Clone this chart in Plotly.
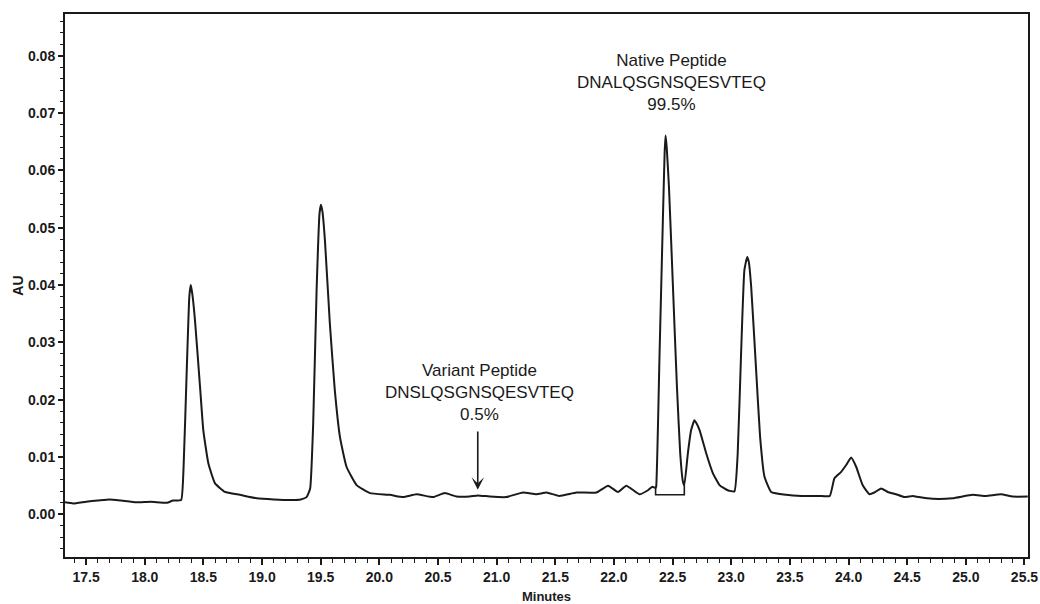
import plotly.graph_objects as go

# Retention time (minutes) and absorbance (AU)
minutes = [
    17.32, 17.39, 17.50, 17.60, 17.70, 17.80, 17.93, 18.05, 18.19, 18.24, 18.31,
    18.33, 18.358, 18.38, 18.392, 18.405, 18.428, 18.471, 18.499, 18.542, 18.599,
    18.684, 18.81, 18.954, 19.10, 19.25, 19.33, 19.38, 19.41, 19.436, 19.465,
    19.49, 19.502, 19.515, 19.536, 19.578, 19.62, 19.664, 19.72, 19.806, 19.92,
    20.09, 20.203, 20.317, 20.458, 20.558, 20.658, 20.77, 20.84, 20.94, 21.08,
    21.225, 21.34, 21.425, 21.535, 21.68, 21.85, 21.95, 22.034, 22.105, 22.217,
    22.29, 22.327, 22.355, 22.36, 22.389, 22.417, 22.432, 22.44, 22.45, 22.469,
    22.503, 22.537, 22.565, 22.588, 22.60, 22.63, 22.658, 22.686, 22.70, 22.73,
    22.787, 22.843, 22.90, 22.97, 23.027, 23.055, 23.084, 23.112, 23.136, 23.15,
    23.17, 23.212, 23.246, 23.283, 23.34, 23.468, 23.60, 23.75, 23.84, 23.88,
    23.937, 23.98, 24.022, 24.065, 24.12, 24.178, 24.22, 24.278, 24.334, 24.405,
    24.476, 24.547, 24.60, 24.717, 24.888, 25.058, 25.17, 25.30, 25.40, 25.528,
]
absorbance = [
    0.0021, 0.0019, 0.0022, 0.0024, 0.0026, 0.0024, 0.0021, 0.0022, 0.0020, 0.0024, 0.0025,
    0.0077, 0.0252, 0.0380, 0.0400, 0.0385, 0.0339, 0.0223, 0.0147, 0.0089, 0.0054,
    0.0039, 0.0034, 0.0028, 0.0026, 0.0025, 0.0026, 0.0030, 0.0045, 0.0159, 0.0391,
    0.0525, 0.0540, 0.0528, 0.0478, 0.0333, 0.0217, 0.0135, 0.0083, 0.0051, 0.0037,
    0.0034, 0.0030, 0.0035, 0.0030, 0.0037, 0.0031, 0.0031, 0.0033, 0.0031, 0.0030,
    0.0038, 0.0035, 0.0038, 0.0032, 0.0038, 0.0038, 0.0050, 0.0039, 0.0050, 0.0035,
    0.0042, 0.0048, 0.0046, 0.0048, 0.0281, 0.0513, 0.0630, 0.0661, 0.0640, 0.0571,
    0.0397, 0.0223, 0.0106, 0.0057, 0.0051, 0.0106, 0.0147, 0.0164, 0.0160, 0.0147,
    0.0106, 0.0072, 0.0051, 0.0042, 0.0040, 0.0106, 0.0281, 0.0426, 0.0449, 0.0440,
    0.0397, 0.0252, 0.0135, 0.0066, 0.0039, 0.0034, 0.0032, 0.0032, 0.0032, 0.0063,
    0.0074, 0.0086, 0.0099, 0.0083, 0.0051, 0.0035, 0.0038, 0.0045, 0.0039, 0.0035,
    0.0030, 0.0032, 0.0030, 0.0027, 0.0028, 0.0034, 0.0032, 0.0035, 0.0031, 0.0031,
]

# Integration baseline drawn under the native peptide peak
baseline_min = [22.355, 22.355, 22.60, 22.60]
baseline_au = [0.0046, 0.0034, 0.0034, 0.0051]

# Annotation content
native_label = ["Native Peptide", "DNALQSGNSQESVTEQ", "99.5%"]
variant_label = ["Variant Peptide", "DNSLQSGNSQESVTEQ", "0.5%"]
native_pos = (22.49, 0.0754)
variant_pos = (20.856, 0.0212)
variant_arrow = (20.839, 0.0043, 0.0147)  # x, head y, tail y

FONT = "Liberation Sans, Arial, sans-serif"
INK = "#1a1a1a"

fig = go.Figure()
fig.add_trace(go.Scatter(x=minutes, y=absorbance, mode="lines",
                         line=dict(color=INK, width=2, shape="spline", smoothing=0.4),
                         hoverinfo="skip", showlegend=False))
fig.add_trace(go.Scatter(x=baseline_min, y=baseline_au, mode="lines",
                         line=dict(color=INK, width=1.6), hoverinfo="skip",
                         showlegend=False))

fig.add_annotation(x=native_pos[0], y=native_pos[1], xref="x", yref="y",
                   text="<br>".join(native_label), showarrow=False,
                   font=dict(family=FONT, size=17, color=INK),
                   xanchor="center", yanchor="middle", align="center")
fig.add_annotation(x=variant_pos[0], y=variant_pos[1], xref="x", yref="y",
                   text="<br>".join(variant_label), showarrow=False,
                   font=dict(family=FONT, size=17, color=INK),
                   xanchor="center", yanchor="middle", align="center")
fig.add_annotation(x=variant_arrow[0], y=variant_arrow[1], xref="x", yref="y",
                   ax=variant_arrow[0], ay=variant_arrow[2], axref="x", ayref="y",
                   text="", showarrow=True, arrowhead=3, arrowsize=1.3,
                   arrowwidth=1.6, arrowcolor=INK)

fig.update_layout(
    width=1040, height=604,
    margin=dict(l=65, r=12, t=14, b=47, pad=0, autoexpand=False),
    paper_bgcolor="white", plot_bgcolor="white",
    font=dict(family=FONT, color=INK),
)
fig.update_xaxes(
    automargin=False,
    range=[17.32, 25.53], tick0=17.5, dtick=0.5, tickformat=".1f",
    showline=True, linewidth=2, linecolor=INK, mirror=True,
    ticks="outside", ticklen=6, tickwidth=1.5, tickcolor=INK,
    minor=dict(dtick=0.1, tick0=17.5, ticks="outside", ticklen=4, tickwidth=1.2, tickcolor=INK),
    tickfont=dict(family=FONT, size=14, color=INK, weight="bold"),
    showgrid=False, zeroline=False,
    title=dict(text="Minutes", font=dict(family=FONT, size=13, color=INK, weight="bold"), standoff=8),
)
fig.update_yaxes(
    automargin=False,
    range=[-0.00745, 0.0873], tick0=0, dtick=0.01, tickformat=".2f",
    showline=True, linewidth=2, linecolor=INK, mirror=True,
    ticks="outside", ticklen=5, tickwidth=1.5, tickcolor=INK,
    minor=dict(dtick=0.002, tick0=0, ticks="outside", ticklen=3, tickwidth=1.2, tickcolor=INK),
    tickfont=dict(family=FONT, size=14, color=INK, weight="bold"),
    showgrid=False, zeroline=False,
    title=dict(text="AU", font=dict(family=FONT, size=14, color=INK, weight="bold"), standoff=1),
)

fig.write_html("out.html", config={"displayModeBar": False},
               post_script="document.body.style.margin='0px';document.body.style.padding='0px';")
